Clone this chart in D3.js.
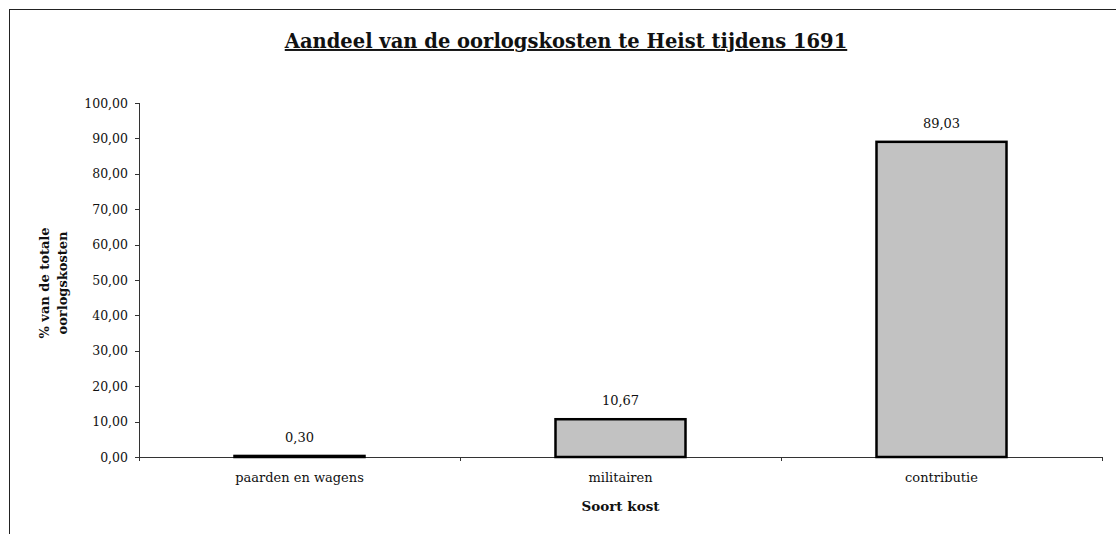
<!DOCTYPE html>
<html>
<head>
<meta charset="utf-8">
<script src="https://d3js.org/d3.v7.min.js"></script>
<style>
  body { margin: 0; background: #fff; }
  text { font-family: "DejaVu Serif", serif; fill: #111; }
  .axis path, .axis line { stroke: #333; shape-rendering: crispEdges; }
  .axis text { font-size: 12.5px; }
  .bar { fill: #c2c2c2; stroke: #000; stroke-width: 2.5; }
</style>
</head>
<body>
<script>
  var categories = ["paarden en wagens", "militairen", "contributie"];
  var values = [0.30, 10.67, 89.03];
  var yTicks = [0, 10, 20, 30, 40, 50, 60, 70, 80, 90, 100];

  var W = 1116, H = 534;
  var margin = { top: 103, right: 14, bottom: 77, left: 139 };
  var width = W - margin.left - margin.right;
  var height = H - margin.top - margin.bottom;

  var nl = d3.formatLocale({ decimal: ",", thousands: ".", grouping: [3], currency: ["", ""] });
  var fmt = nl.format(".2f");

  var svg = d3.select("body").append("svg")
      .attr("width", W)
      .attr("height", H);

  // outer frame of the chart area
  svg.append("rect")
      .attr("x", 9.5).attr("y", 9.5)
      .attr("width", W + 20).attr("height", H + 20)
      .attr("fill", "none").attr("stroke", "#222").attr("stroke-width", 1);

  svg.append("text")
      .attr("x", 566).attr("y", 48)
      .attr("text-anchor", "middle")
      .style("font-size", "19.5px").style("font-weight", "bold")
      .style("text-decoration", "underline")
      .text("Aandeel van de oorlogskosten te Heist tijdens 1691");

  var g = svg.append("g")
      .attr("transform", "translate(" + margin.left + "," + margin.top + ")");

  var x = d3.scaleBand().domain(categories).range([0, width]).paddingInner(0).paddingOuter(0);
  var y = d3.scaleLinear().domain([0, 100]).range([height, 0]);

  g.append("g")
      .attr("class", "axis y")
      .call(d3.axisLeft(y).tickValues(yTicks).tickFormat(fmt).tickSize(4).tickPadding(7));

  var xAxis = g.append("g")
      .attr("class", "axis x")
      .attr("transform", "translate(0," + height + ")")
      .call(d3.axisBottom(x).tickSize(0).tickPadding(16));
  xAxis.selectAll("text").style("font-size", "13px");

  // tick marks at category boundaries
  var bounds = categories.map(function(c) { return x(c); }).concat([width]);
  xAxis.selectAll(".bound")
      .data(bounds)
    .enter().append("line")
      .attr("class", "bound")
      .attr("x1", function(d) { return d; })
      .attr("x2", function(d) { return d; })
      .attr("y1", 0).attr("y2", 4);

  var bw = x.bandwidth() * 0.405;

  g.selectAll(".bar")
      .data(values)
    .enter().append("rect")
      .attr("class", "bar")
      .attr("x", function(d, i) { return x(categories[i]) + (x.bandwidth() - bw) / 2; })
      .attr("width", bw)
      .attr("y", function(d) { return y(d); })
      .attr("height", function(d) { return height - y(d); });

  g.selectAll(".vlabel")
      .data(values)
    .enter().append("text")
      .attr("class", "vlabel")
      .attr("x", function(d, i) { return x(categories[i]) + x.bandwidth() / 2; })
      .attr("y", function(d) { return y(d) - 14; })
      .attr("text-anchor", "middle")
      .style("font-size", "13px")
      .text(function(d) { return fmt(d); });

  svg.append("text")
      .attr("x", margin.left + width / 2).attr("y", 511)
      .attr("text-anchor", "middle")
      .style("font-size", "13.5px").style("font-weight", "bold")
      .text("Soort kost");

  var yt = svg.append("text")
      .attr("transform", "translate(49,283) rotate(-90)")
      .attr("text-anchor", "middle")
      .style("font-size", "13px").style("font-weight", "bold");
  yt.append("tspan").attr("x", 0).attr("dy", 0).text("% van de totale");
  yt.append("tspan").attr("x", 0).attr("dy", 18).text("oorlogskosten");
</script>
</body>
</html>
